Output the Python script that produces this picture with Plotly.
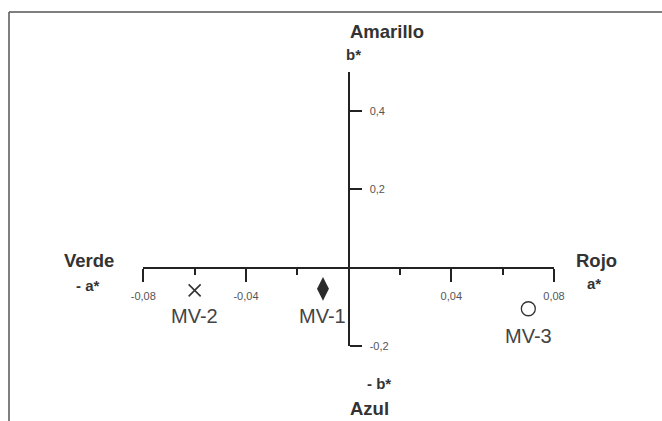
import plotly.graph_objects as go

# ---- data ----
sample_names = ["MV-1", "MV-2", "MV-3"]
a_star = [-0.010, -0.060, 0.070]
b_star = [-0.054, -0.058, -0.105]
symbols = ["diamond-tall", "x-thin-open", "circle-open"]

x_tickvals = [-0.08, -0.04, 0.04, 0.08]
x_ticktext = ["-0,08", "-0,04", "0,04", "0,08"]
x_minorvals = [-0.06, -0.02, 0.02, 0.06]
y_tickvals = [-0.2, 0.2, 0.4]
y_ticktext = ["-0,2", "0,2", "0,4"]

W, H = 662, 421
def fx(px):
    return px / W
def fy(py):
    return 1 - py / H

AX = "#222222"
TXT = "#333333"
FONT = "Liberation Sans, Arial"

fig = go.Figure()

for name, xv, yv, sym in zip(sample_names, a_star, b_star, symbols):
    if sym == "diamond-tall":
        mk = dict(symbol=sym, size=17, color="#2a2a2a", line=dict(width=0))
    elif sym == "x-thin-open":
        mk = dict(symbol=sym, size=12, color="#333333", line=dict(width=1.6, color="#333333"))
    else:
        mk = dict(symbol=sym, size=14, color="#333333", line=dict(width=1.3, color="#333333"))
    fig.add_trace(go.Scatter(x=[xv], y=[yv], mode="markers", marker=mk,
                             showlegend=False, cliponaxis=False, hoverinfo="skip"))

# sample labels
shifts = {"MV-1": -27, "MV-2": -26, "MV-3": -27}
for name, xv, yv in zip(sample_names, a_star, b_star):
    fig.add_annotation(x=xv, y=yv, xref="x", yref="y", text=name, showarrow=False,
                       yshift=shifts[name], font=dict(family=FONT, size=20, color="#444444"))

# axis titles / color names
labels = [
    ("Amarillo", 386.7, 31.7, 18.5),
    ("b*", 353.5, 55, 15),
    ("Verde", 88.5, 260, 18.5),
    ("- a*", 87.5, 285, 15),
    ("Rojo", 596, 260, 18.5),
    ("a*", 593.5, 283, 15),
    ("- b*", 378.5, 383, 15),
    ("Azul", 369, 408, 18.5),
]
for t, px, py, sz in labels:
    fig.add_annotation(x=fx(px), y=fy(py), xref="paper", yref="paper",
                       text=f"<b>{t}</b>", showarrow=False,
                       xanchor="center", yanchor="middle",
                       font=dict(family=FONT, size=sz, color=TXT))

# frame (top and left)
fig.add_shape(type="line", xref="paper", yref="paper", x0=fx(9), x1=1.0, y0=fy(12), y1=fy(12),
              line=dict(color="#555555", width=1.5))
fig.add_shape(type="line", xref="paper", yref="paper", x0=fx(9), x1=fx(9), y0=fy(12), y1=0.0,
              line=dict(color="#555555", width=1.5))

fig.update_layout(
    width=W, height=H,
    margin=dict(l=0, r=0, t=0, b=0, pad=0, autoexpand=False),
    paper_bgcolor="white", plot_bgcolor="white",
    showlegend=False,
    xaxis=dict(
        domain=[fx(143.3), fx(554)], range=[-0.08, 0.08],
        anchor="free", position=fy(268), automargin=False,
        showline=True, linecolor=AX, linewidth=2,
        showgrid=False, zeroline=False,
        ticks="outside", ticklen=13, tickwidth=2, tickcolor=AX,
        tickmode="array", tickvals=x_tickvals, ticktext=x_ticktext,
        tickfont=dict(family=FONT, size=11, color="#555555"),
        ticklabelstandoff=5,
        minor=dict(tickmode="array", tickvals=x_minorvals, ticks="outside",
                   ticklen=6, tickwidth=2, tickcolor=AX, showgrid=False),
        fixedrange=True,
    ),
    yaxis=dict(
        domain=[fy(346), fy(71.7)], range=[-0.2, 0.5],
        anchor="free", position=fx(348.5), side="right", automargin=False,
        showline=True, linecolor=AX, linewidth=2,
        showgrid=False, zeroline=False,
        ticks="outside", ticklen=12, tickwidth=2, tickcolor=AX,
        tickmode="array", tickvals=y_tickvals, ticktext=y_ticktext,
        tickfont=dict(family=FONT, size=11, color="#555555"),
        ticklabelstandoff=6,
        fixedrange=True,
    ),
)

fig.write_html("out.html")
